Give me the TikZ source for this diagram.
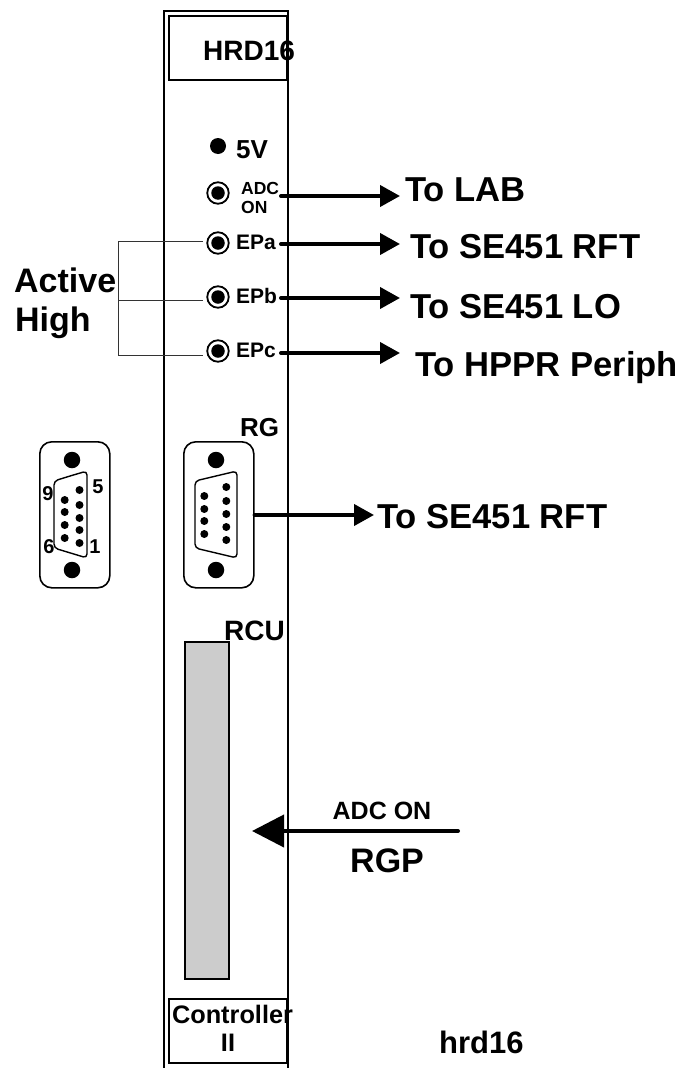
\documentclass[tikz,border=0pt]{standalone}
\usepackage{fontspec}
\setmainfont{Liberation Sans}
\usetikzlibrary{arrows.meta}
\newcommand{\fs}[1]{\fontsize{#1}{#1}\selectfont\bfseries}
\tikzset{
  x=1pt,y=-1pt,
  lbl/.style={anchor=base west,inner sep=0pt,text=black},
  lblc/.style={anchor=base,inner sep=0pt,text=black},
  panel/.style={draw=black,line width=2pt},
  inbox/.style={draw=black,line width=1.7pt,fill=white},
  led/.style={circle,draw=black,line width=1.8pt,minimum size=21.5pt,inner sep=0pt,fill=white},
  leddot/.style={circle,fill=black,minimum size=13.5pt,inner sep=0pt},
  hole/.style={circle,fill=black,minimum size=16.5pt,inner sep=0pt},
  pin/.style={circle,fill=black,minimum size=8pt,inner sep=0pt},
  thinline/.style={draw=black!80,line width=0.8pt},
  harrow/.style={draw=black,line width=4pt,line cap=round,-{Triangle[length=20pt,width=21pt]}},
  bigarrow/.style={draw=black,line width=4pt,line cap=round,-{Triangle[length=32pt,width=32pt]}},
  dsub/.style={draw=black,line width=1.6pt,rounded corners=12pt,fill=white},
  shell/.style={draw=black,line width=1.4pt,rounded corners=4pt},
}
\begin{document}
\begin{tikzpicture}
\useasboundingbox (0,0) rectangle (683,1068);
% panel
\draw[panel] (164,1068) -- (164,11) -- (288,11) -- (288,1068);
\node[inbox,minimum width=118pt,minimum height=64pt,anchor=north west,inner sep=0pt] (top) at (168,15) {};
\node[lbl] (title) at (203,60) {\fs{28}HRD16};
\node[inbox,minimum width=118pt,minimum height=64pt,anchor=north west,inner sep=0pt] (bot) at (168,998) {};
\node[lblc] (ctrl) at (232.5,1023) {\fs{25.3}Controller};
\node[lblc] (ctrl2) at (228,1051) {\fs{25.3}II};
% LEDs
\node[leddot,minimum size=16pt] (five) at (218,146) {};
\node[lbl] (fivet) at (236,158) {\fs{26}5V};
\node[led] (ledO) at (218,193) {}; \node[leddot] at (ledO) {};
\node[led] (ledA) at (218,243) {}; \node[leddot] at (ledA) {};
\node[led] (ledB) at (218,297) {}; \node[leddot] at (ledB) {};
\node[led] (ledC) at (218,351) {}; \node[leddot] at (ledC) {};
\node[lbl] (adc) at (241,194) {\fs{17.5}ADC};
\node[lbl] (on) at (241,213) {\fs{17.5}ON};
\node[lbl] (epa) at (236,249) {\fs{21}EPa};
\node[lbl] (epb) at (236,303) {\fs{21}EPb};
\node[lbl] (epc) at (236,357) {\fs{21}EPc};
% targets
\node[lbl] (tlab) at (405,201) {\fs{34.6}To LAB};
\node[lbl] (trft) at (410,258) {\fs{34.6}To SE451 RFT};
\node[lbl] (tlo) at (410,318) {\fs{34.6}To SE451 LO};
\node[lbl] (thp) at (415,376) {\fs{34.6}To HPPR Periph};
\node[lbl] (trg) at (377,528) {\fs{34.6}To SE451 RFT};
\coordinate (sO) at (281,196); \coordinate (eO) at (400,196);
\coordinate (sA) at (281,244); \coordinate (eA) at (400,244);
\coordinate (sB) at (281,298); \coordinate (eB) at (400,298);
\coordinate (sC) at (281,353); \coordinate (eC) at (400,353);
\draw[harrow] (sO) -- (eO);
\draw[harrow] (sA) -- (eA);
\draw[harrow] (sB) -- (eB);
\draw[harrow] (sC) -- (eC);
% bracket
\node[lbl] (act) at (14,292) {\fs{34}Active};
\node[lbl] (high) at (15,331) {\fs{34}High};
\coordinate (bA) at (118,241); \coordinate (bB) at (118,300.5); \coordinate (bC) at (118,355);
\coordinate (xA) at (203,241); \coordinate (xB) at (203,300.5); \coordinate (xC) at (203,355);
\draw[thinline] (xA) -- (bA) -- (bC) -- (xC);
\draw[thinline] (bB) -- (xB);
% left D-sub
\node[dsub,minimum width=70pt,minimum height=146pt,anchor=north west,inner sep=0pt] (dl) at (39,441) {};
\node[hole] (dlh1) at (72,460) {}; \node[hole] (dlh2) at (72,570) {};
\draw[shell] (70,476) -- (87,471) -- (87,558) -- (54,548) -- (54,481) -- cycle;
\foreach \y in {490,505,518,530,543} \node[pin] at (79.5,\y) {};
\foreach \y in {500,512,525,538} \node[pin] at (64.7,\y) {};
\node[lblc] (n9) at (48,500) {\fs{20}9};
\node[lblc] (n5) at (98,493) {\fs{20}5};
\node[lblc] (n6) at (49,553) {\fs{20}6};
\node[lblc] (n1) at (95,553) {\fs{20}1};
% right D-sub
\node[dsub,minimum width=70pt,minimum height=146pt,anchor=north west,inner sep=0pt] (dr) at (183,441) {};
\node[hole] (drh1) at (216,460) {}; \node[hole] (drh2) at (216,570) {};
\draw[shell] (216,476) -- (237,471) -- (237,558) -- (195,548) -- (195,481) -- cycle;
\foreach \y in {487,501,514,527,540} \node[pin] at (226.3,\y) {};
\foreach \y in {496,509,521,534} \node[pin] at (204.3,\y) {};
\node[lbl] (rg) at (240,436) {\fs{26}RG};
\coordinate (rgend) at (374,515);
\draw[harrow] (dr.east |- rgend) -- (rgend);
% RCU
\node[lbl] (rcu) at (224,640) {\fs{28}RCU};
\node[draw=black,line width=1.6pt,fill=black!20,minimum width=44pt,minimum height=337pt,anchor=north west,inner sep=0pt] (rcubox) at (184,641) {};
% RGP arrow
\coordinate (rs) at (458,831);
\coordinate (re) at (252,831);
\draw[bigarrow] (rs) -- (re);
\node[lblc] (adcon) at (382,819) {\fs{25}ADC ON};
\node[lbl] (rgp) at (350,872) {\fs{34}RGP};
\node[lbl] (hrd) at (439,1053) {\fs{31}hrd16};
\end{tikzpicture}
\end{document}
